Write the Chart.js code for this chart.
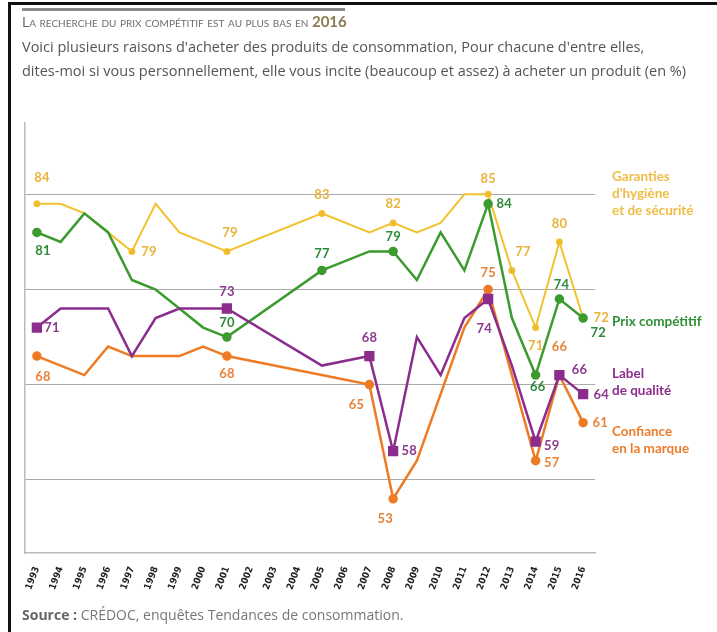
<!DOCTYPE html>
<html>
<head>
<meta charset="utf-8">
<script src="https://cdn.jsdelivr.net/npm/chart.js@4"></script>
<style>
body { margin: 0; background: #fff; }
#wrap { position: relative; width: 717px; height: 632px; overflow: hidden; font-family: 'Lato', sans-serif; }
#c { position: absolute; left: 0; top: 0; }
.frameL { position: absolute; left: 8px; top: 2px; width: 3px; height: 640px; background: #111; }
.frameT { position: absolute; left: 8px; top: 2px; width: 720px; height: 3px; background: #111; }
.bar { position: absolute; left: 22px; top: 8px; width: 323px; height: 3px; background: #8a8a8a; }
.title { position: absolute; left: 22px; top: 12px; font-size: 14px; color: #6e6e6e; font-variant: small-caps; white-space: nowrap; }
.title b { font-variant: normal; color: #8a7a50; font-size: 15px; }
.sub { position: absolute; left: 22px; top: 35px; font-size: 14.5px; line-height: 24px; color: #555; white-space: nowrap; font-family: 'Open Sans', sans-serif; letter-spacing: 0px; }
.lg { position: absolute; left: 612px; font-size: 13.5px; font-weight: bold; line-height: 17px; white-space: nowrap; }
.src { position: absolute; left: 22px; top: 605px; font-size: 14px; color: #777; white-space: nowrap; font-family: 'Open Sans', sans-serif; }
.src b { color: #666; }
</style>
</head>
<body>
<div id="wrap">
<canvas id="c" width="717" height="632"></canvas>
<div class="frameL"></div><div class="frameT"></div>
<div class="bar"></div>
<div class="title">La recherche du prix compétitif est au plus bas en <b>2016</b></div>
<div class="sub">Voici plusieurs raisons d'acheter des produits de consommation, Pour chacune d'entre elles,<br>dites-moi si vous personnellement, elle vous incite (beaucoup et assez) à acheter un produit (en %)</div>
<div class="lg" style="top:168px;color:#efbd45">Garanties<br>d'hygiène<br>et de sécurité</div>
<div class="lg" style="top:313px;color:#2f8f35">Prix compétitif</div>
<div class="lg" style="top:365px;color:#8b2d8d">Label<br>de qualité</div>
<div class="lg" style="top:423px;color:#ea7d2c">Confiance<br>en la marque</div>
<div class="src"><b>Source :</b> CRÉDOC, enquêtes Tendances de consommation.</div>
</div>
<script>
var years = ['1993','1994','1995','1996','1997','1998','1999','2000','2001','2002','2003','2004',
             '2005','2006','2007','2008','2009','2010','2011','2012','2013','2014','2015','2016'];

// null = pas d'enquête cette année-là
var hygiene   = [84,84,83,81,79,84,81,80,79,null,null,null,83,null,81,82,81,82,85,85,77,71,80,72];
var prix      = [81,80,83,81,76,75,73,71,70,null,null,null,77,null,79,79,76,81,77,84,72,66,74,72];
var qualite   = [71,73,73,73,68,72,73,73,73,null,null,null,67,null,68,58,70,66,72,74,67,59,66,64];
var confiance = [68,67,66,69,68,68,68,69,68,null,null,null,null,null,65,53,57,64,71,75,66,57,66,61];

// points annotés (indices dans years)
var hygieneMarks   = [0,4,8,12,15,19,20,21,22,23];
var prixMarks      = [0,8,12,15,19,21,22,23];
var qualiteMarks   = [0,8,14,15,19,21,22,23];
var confianceMarks = [0,8,14,15,19,21,22,23];

// décalage des étiquettes par rapport au point
var hygieneOff   = [[5,-26],[17,0],[3,-19],[0,-19],[0,-19],[0,-16],[11,-19],[0,18],[0,-18],[18,0]];
var prixOff      = [[6,18],[0,-14],[0,-17],[0,-15],[16,0],[2,12],[2,-14],[15,15]];
var qualiteOff   = [[15,0],[0,-17],[0,-18],[16,0],[-4,30],[16,4],[20,-5],[18,1]];
var confianceOff = [[6,21],[0,18],[-13,20],[-8,20],[0,-17],[16,2],[0,-28],[17,0]];

function radii(marks, r) {
    return years.map(function (y, i) { return marks.indexOf(i) >= 0 ? r : 0; });
}

var pointLabels = {
    id: 'pointLabels',
    afterDatasetsDraw: function (chart) {
        var ctx = chart.ctx;
        ctx.save();
        ctx.font = 'bold 13px Lato';
        ctx.textAlign = 'center';
        ctx.textBaseline = 'middle';
        chart.data.datasets.forEach(function (ds, d) {
            var meta = chart.getDatasetMeta(d);
            ctx.fillStyle = ds.textColor;
            ds.marks.forEach(function (i, k) {
                var p = meta.data[i];
                ctx.fillText(ds.data[i], p.x + ds.offsets[k][0], p.y + ds.offsets[k][1]);
            });
        });
        ctx.restore();
    }
};

var ctx = document.getElementById('c').getContext('2d');
var chart = new Chart(ctx, {
    type: 'line',
    data: {
        labels: years,
        datasets: [{
            label: 'Label de qualité',
            data: qualite,
            borderColor: '#8b2d8d',
            backgroundColor: '#8b2d8d',
            borderWidth: 2.5,
            pointStyle: 'rect',
            pointRadius: radii(qualiteMarks, 5.5),
            marks: qualiteMarks, offsets: qualiteOff, textColor: '#8b3a8e'
        }, {
            label: 'Prix compétitif',
            data: prix,
            borderColor: '#3b9b2e',
            backgroundColor: '#3b9b2e',
            borderWidth: 2.5,
            pointRadius: radii(prixMarks, 3.5),
            marks: prixMarks, offsets: prixOff, textColor: '#2e8a3a'
        }, {
            label: 'Confiance en la marque',
            data: confiance,
            borderColor: '#ee7b24',
            backgroundColor: '#ee7b24',
            borderWidth: 2.5,
            pointRadius: radii(confianceMarks, 3.5),
            marks: confianceMarks, offsets: confianceOff, textColor: '#e8823a'
        }, {
            label: "Garanties d'hygiène et de sécurité",
            data: hygiene,
            borderColor: '#f2c12e',
            backgroundColor: '#eab431',
            borderWidth: 2,
            pointRadius: radii(hygieneMarks, 2.5),
            marks: hygieneMarks, offsets: hygieneOff, textColor: '#e9b33a'
        }]
    },
    options: {
        responsive: false,
        animation: false,
        spanGaps: true,
        layout: { padding: { left: 0, right: 122, top: 123, bottom: 0 } },
        elements: { line: { tension: 0 }, point: { borderWidth: 0 } },
        plugins: { legend: { display: false }, tooltip: { enabled: false } },
        scales: {
            x: {
                offset: true,
                grid: { display: false },
                border: { color: '#bbb', width: 1.5 },
                ticks: {
                    minRotation: 70, maxRotation: 70, padding: 4, autoSkip: false,
                    color: '#222',
                    font: { family: 'DejaVu Sans Condensed', size: 9.5, weight: 'bold' }
                },
                afterFit: function (s) { s.height = 79; }
            },
            y: {
                min: 47.3, max: 92.5,
                afterBuildTicks: function (s) {
                    s.ticks = [55, 65, 75, 85].map(function (v) { return { value: v }; });
                },
                ticks: { display: false },
                grid: { color: '#aaa', drawTicks: false },
                border: { color: '#bbb', width: 1.5 },
                afterFit: function (s) { s.width = 25; }
            }
        }
    },
    plugins: [pointLabels]
});
</script>
</body>
</html>
